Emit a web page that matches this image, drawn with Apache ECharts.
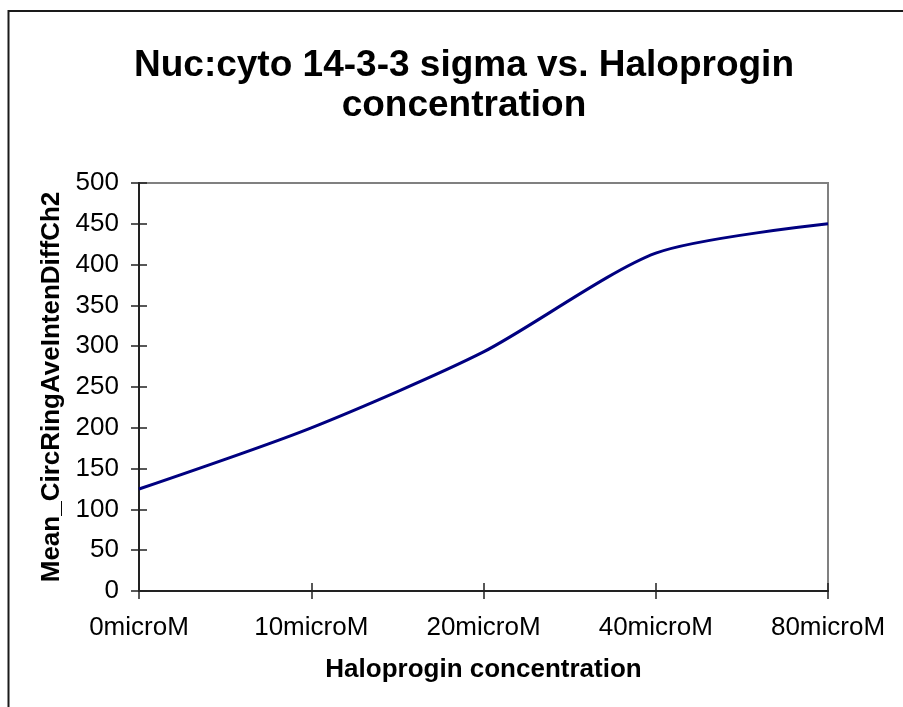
<!DOCTYPE html>
<html>
<head>
<meta charset="utf-8">
<script src="https://cdn.jsdelivr.net/npm/echarts@6/dist/echarts.min.js"></script>
<style>
  html, body { margin: 0; padding: 0; background: #fff; }
  #chart { width: 903px; height: 707px; }
</style>
</head>
<body>
<div id="chart"></div>
<script>
// data
const concentrations = ['0microM', '10microM', '20microM', '40microM', '80microM']
const meanValues = [125, 200, 293, 414, 450]

const titleText = 'Nuc:cyto 14-3-3 sigma vs. Haloprogin\nconcentration'
const xName = 'Haloprogin concentration'
const yName = 'Mean_CircRingAveIntenDiffCh2'

const font = '"Liberation Sans", Arial, sans-serif'
const axisColor = '#222'

const chart = echarts.init(document.getElementById('chart'))

const option = {
  backgroundColor: '#fff',
  animation: false,
  title: {
    text: titleText,
    left: 459,
    top: 41,
    textAlign: 'center',
    textStyle: {
      fontFamily: font,
      fontSize: 37,
      fontWeight: 'bold',
      color: '#000',
      lineHeight: 40
    }
  },
  graphic: [
    {
      type: 'rect',
      shape: { x: 8.5, y: 11, width: 1000, height: 1000 },
      style: { fill: 'none', stroke: '#1a1a1a', lineWidth: 2 },
      silent: true
    }
  ],
  grid: {
    left: 139,
    top: 183,
    width: 689,
    height: 408,
    show: true,
    borderColor: '#808080',
    borderWidth: 2,
    containLabel: false
  },
  xAxis: [
    {
      type: 'category',
      data: concentrations,
      boundaryGap: false,
      name: xName,
      nameLocation: 'middle',
      nameGap: 66,
      nameTextStyle: { fontFamily: font, fontSize: 26, fontWeight: 'bold', color: '#000' },
      axisLine: { lineStyle: { color: axisColor, width: 2 } },
      axisTick: { length: 8, lineStyle: { color: axisColor, width: 1.5 } },
      axisLabel: { fontFamily: font, fontSize: 26, color: '#000', margin: 24 },
      splitLine: { show: false }
    },
    {
      // second axis only to draw the inner half of the crossing ticks
      type: 'category',
      data: concentrations,
      boundaryGap: false,
      position: 'bottom',
      axisLine: { show: false },
      axisTick: { inside: true, length: 8, lineStyle: { color: axisColor, width: 1.5 } },
      axisLabel: { show: false },
      splitLine: { show: false }
    }
  ],
  yAxis: [
    {
      type: 'value',
      min: 0,
      max: 500,
      interval: 50,
      name: yName,
      nameLocation: 'middle',
      nameGap: 74,
      nameTextStyle: { fontFamily: font, fontSize: 26, fontWeight: 'bold', color: '#000' },
      axisLine: { show: true, lineStyle: { color: axisColor, width: 2 } },
      axisTick: { show: true, length: 8, lineStyle: { color: axisColor, width: 1.5 } },
      axisLabel: { fontFamily: font, fontSize: 26, color: '#000', margin: 20 },
      splitLine: { show: false }
    },
    {
      type: 'value',
      min: 0,
      max: 500,
      interval: 50,
      position: 'left',
      axisLine: { show: false },
      axisTick: { show: true, inside: true, length: 8, lineStyle: { color: axisColor, width: 1.5 } },
      axisLabel: { show: false },
      splitLine: { show: false }
    }
  ],
  series: [
    {
      name: yName,
      type: 'line',
      data: meanValues,
      smooth: 0.25,
      showSymbol: false,
      lineStyle: { color: '#000080', width: 3 },
      itemStyle: { color: '#000080' }
    }
  ]
}

chart.setOption(option)
</script>
</body>
</html>
